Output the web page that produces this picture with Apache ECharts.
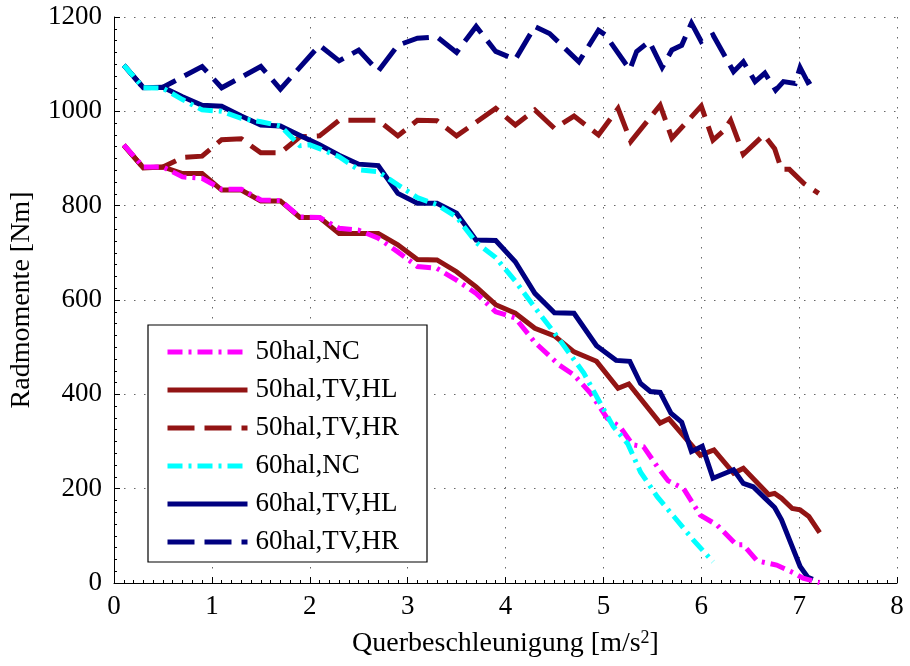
<!DOCTYPE html>
<html>
<head>
<meta charset="utf-8">
<script src="https://cdn.jsdelivr.net/npm/echarts@6/dist/echarts.min.js"></script>
<style>
html,body{margin:0;padding:0;background:#fff;}
#chart{width:910px;height:666px;}
</style>
</head>
<body>
<div id="chart"></div>
<script>
// ---- data ----
var xTicks = [0,1,2,3,4,5,6,7,8];
var yTicks = [0,200,400,600,800,1000,1200];
var seriesNames = ['50hal,NC','50hal,TV,HL','50hal,TV,HR','60hal,NC','60hal,TV,HL','60hal,TV,HR'];

var x50NC = [0.1,0.3,0.5,0.7,0.9,1.1,1.3,1.5,1.7,1.9,2.1,2.3,2.5,2.7,2.9,3.1,3.3,3.5,3.7,3.9,4.1,4.3,4.55,4.7,4.87,5.04,5.17,5.3,5.41,5.55,5.66,5.82,5.99,6.16,6.36,6.43,6.57,6.77,6.94,7.04,7.21];
var y50NC = [929,882,882,861,858,835,835,812,811,776,775,752,748,731,702,671,667,642,614,575,562,510,462,441,402,349,331,293,289,247,217,200,144,123,81,81,47,38,22,10,1];

var x50HL = [0.1,0.3,0.5,0.7,0.9,1.1,1.3,1.5,1.7,1.9,2.1,2.3,2.5,2.7,2.9,3.1,3.3,3.5,3.7,3.9,4.1,4.3,4.5,4.7,4.93,5.15,5.26,5.58,5.67,5.99,6.13,6.33,6.43,6.69,6.75,6.82,6.93,7.01,7.1,7.21];
var y50HL = [929,880,882,868,868,833,833,810,810,775,775,741,741,741,717,686,685,660,628,590,572,540,524,490,470,413,422,339,348,271,282,233,243,187,190,180,158,155,141,107];

var x50HR = [0.1,0.3,0.5,0.7,0.9,1.1,1.3,1.5,1.7,1.9,2.1,2.3,2.7,2.9,3.1,3.3,3.5,3.9,4.1,4.3,4.5,4.7,4.95,5.15,5.28,5.58,5.7,6.0,6.12,6.22,6.3,6.43,6.64,6.75,6.82,6.9,7.05,7.2];
var y50HR = [928,880,882,902,905,940,942,912,912,946,948,981,981,948,981,980,948,1006,971,1003,964,990,950,1006,936,1013,943,1011,939,957,981,909,950,921,877,877,847,826];

var x60NC = [0.1,0.3,0.5,0.7,0.9,1.1,1.3,1.5,1.7,1.9,2.0,2.1,2.3,2.5,2.7,2.9,3.1,3.3,3.5,3.7,3.9,4.1,4.3,4.5,4.6,4.8,4.95,5.1,5.25,5.38,5.55,5.72,5.92,6.12];
var y60NC = [1098,1050,1049,1025,1003,1000,985,978,969,927,929,921,904,876,872,844,817,802,776,722,690,640,584,530,502,445,388,332,295,235,183,141,91,45];

var x60HL = [0.1,0.3,0.5,0.7,0.9,1.1,1.3,1.5,1.7,1.9,2.1,2.3,2.5,2.7,2.9,3.1,3.3,3.5,3.7,3.9,4.1,4.3,4.5,4.7,4.93,5.13,5.27,5.38,5.48,5.58,5.69,5.8,5.9,6.01,6.12,6.33,6.43,6.53,6.64,6.75,6.82,7.01,7.09,7.14];
var y60HL = [1098,1050,1051,1031,1013,1011,990,971,969,949,929,907,888,885,826,805,805,784,727,726,681,614,573,572,503,472,470,423,406,404,360,341,279,290,222,240,211,204,182,160,134,35,12,8];

var x60HR = [0.1,0.3,0.5,0.9,1.1,1.5,1.7,2.1,2.3,2.5,2.7,2.9,3.1,3.3,3.5,3.7,3.9,4.1,4.3,4.45,4.75,4.95,5.02,5.27,5.34,5.47,5.6,5.7,5.8,5.9,6.0,6.12,6.33,6.43,6.55,6.65,6.76,6.84,6.96,7.01,7.09,7.16];
var y60HR = [1098,1050,1051,1095,1050,1095,1047,1140,1107,1130,1085,1140,1155,1158,1125,1180,1127,1110,1180,1165,1105,1172,1162,1088,1127,1148,1093,1130,1140,1187,1148,1162,1084,1105,1063,1081,1045,1063,1059,1093,1061,1070];

// ---- build ----
function pairs(xs, ys){ return xs.map(function(x,i){ return [x, ys[i]]; }); }
var FONT = 'Liberation Serif';
var dashDot = [15,6,3,6];
var dash = [27,10];
var RED = '#921414', NAVY = '#000080', MAG = '#ff00ff', CYAN = '#00ffff';

function mk(name, xs, ys, color, type, z){
  return {
    name: name, type: 'line', data: pairs(xs, ys), symbol: 'none', z: z,
    animation: false,
    lineStyle: { color: color, width: 5, type: type, cap: 'butt', join: 'miter' },
    itemStyle: { color: color }
  };
}

var chart = echarts.init(document.getElementById('chart'), null, {renderer: 'canvas'});
chart.setOption({
  animation: false,
  backgroundColor: '#fff',
  grid: { left: 113, right: 13, top: 17, bottom: 83, containLabel: false },
  xAxis: {
    type: 'value', min: xTicks[0], max: xTicks[xTicks.length-1], interval: 1,
    name: 'Querbeschleunigung [m/s{sup|2}]',
    nameLocation: 'middle', nameGap: 46,
    nameTextStyle: { fontFamily: FONT, fontSize: 28, color: '#000',
      rich: { sup: { fontFamily: FONT, fontSize: 18, verticalAlign: 'top', padding: [0,0,12,0], color:'#000' } } },
    axisLine: { show: true, lineStyle: { color: '#000', width: 1 } },
    axisTick: { show: true, inside: true, length: 6, lineStyle: { color: '#000' } },
    minorTick: { show: true, splitNumber: 10, length: 3, lineStyle: { color: '#000' } },
    axisLabel: { fontFamily: FONT, fontSize: 27, color: '#000', margin: 10,
      formatter: function(v){ return String(v); } },
    splitLine: { show: true, lineStyle: { color: '#666', width: 1, type: [1.5, 8.5] } }
  },
  yAxis: {
    type: 'value', min: yTicks[0], max: yTicks[yTicks.length-1], interval: 200,
    name: 'Radmomente [Nm]',
    nameLocation: 'middle', nameGap: 78, nameRotate: 90,
    nameTextStyle: { fontFamily: FONT, fontSize: 28, color: '#000' },
    axisLine: { show: true, lineStyle: { color: '#000', width: 1 } },
    axisTick: { show: true, inside: true, length: 6, lineStyle: { color: '#000' } },
    minorTick: { show: true, splitNumber: 8, length: 3, lineStyle: { color: '#000' } },
    axisLabel: { fontFamily: FONT, fontSize: 27, color: '#000', margin: 12,
      formatter: function(v){ return String(v); } },
    splitLine: { show: true, lineStyle: { color: '#666', width: 1, type: [1.5, 8.5] } }
  },
  legend: {
    orient: 'vertical', left: 148, top: 325,
    data: seriesNames,
    itemWidth: 80, itemHeight: 14, itemGap: 10,
    padding: [13, 28, 6, 17],
    borderColor: '#000', borderWidth: 1.2, backgroundColor: '#fff',
    itemStyle: { opacity: 0, borderWidth: 0 },
    lineStyle: { width: 5, cap: 'butt' },
    textStyle: { fontFamily: FONT, fontSize: 27, color: '#000', lineHeight: 28, padding: [0,0,0,3] },
    selectedMode: false
  },
  series: [
    mk(seriesNames[1], x50HL, y50HL, RED, 'solid', 2),
    mk(seriesNames[2], x50HR, y50HR, RED, dash, 2),
    mk(seriesNames[4], x60HL, y60HL, NAVY, 'solid', 2),
    mk(seriesNames[5], x60HR, y60HR, NAVY, dash, 2),
    mk(seriesNames[0], x50NC, y50NC, MAG, dashDot, 3),
    mk(seriesNames[3], x60NC, y60NC, CYAN, dashDot, 3)
  ]
});
</script>
</body>
</html>
